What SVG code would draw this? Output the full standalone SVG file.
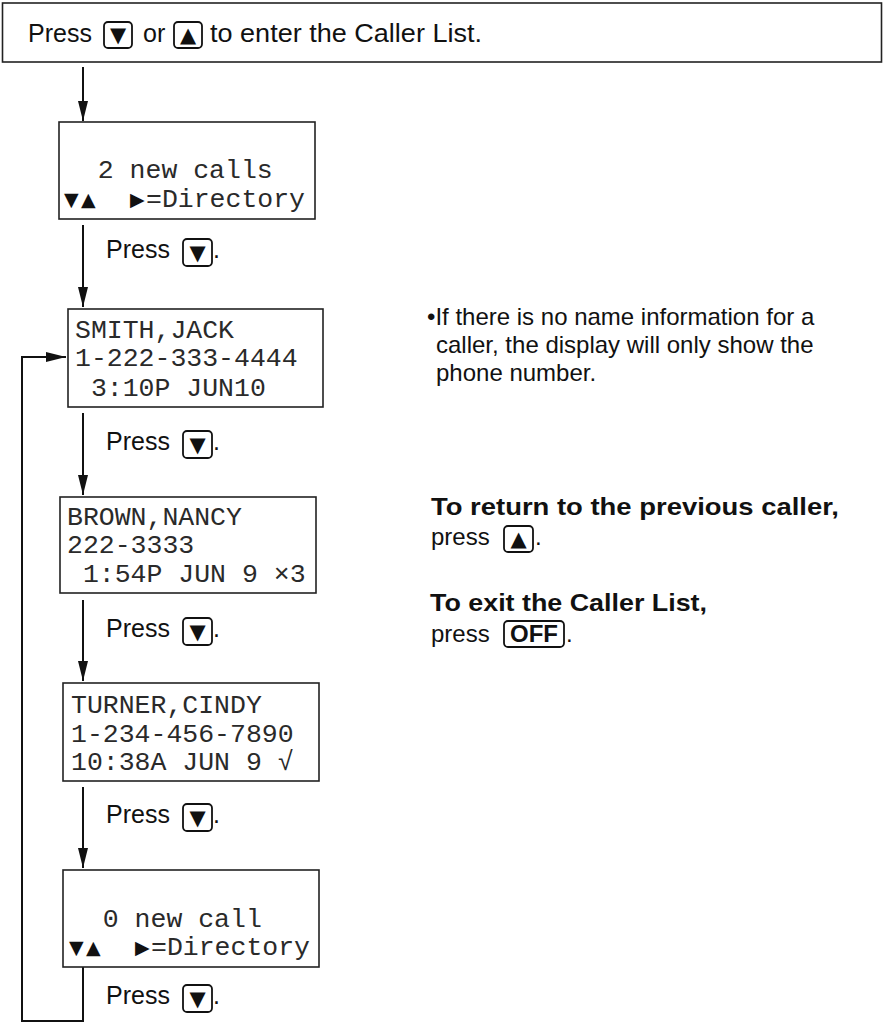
<svg xmlns="http://www.w3.org/2000/svg" width="884" height="1024" viewBox="0 0 884 1024">
<style>
.frame{fill:#fff;stroke:#222;stroke-width:1.6}
.mono{font-family:"Liberation Mono","DejaVu Sans Mono",monospace;font-size:26.5px;fill:#2a2a2a}
.sym{font-family:"DejaVu Sans","DejaVu Sans Mono",sans-serif;font-size:19px;fill:#111}
.sans{font-family:"Liberation Sans",Arial,sans-serif;font-size:25px;fill:#111}
.note{font-family:"Liberation Sans",Arial,sans-serif;font-size:24px;fill:#111}
.bold{font-weight:bold}
.key{fill:#fff;stroke:#111;stroke-width:1.8}
.tri{font-family:"DejaVu Sans",sans-serif;font-size:21px;fill:#111;text-anchor:middle}
.conn{fill:none;stroke:#111;stroke-width:2}
</style>
<defs>
<marker id="ah" markerUnits="userSpaceOnUse" markerWidth="20" markerHeight="10" refX="20" refY="5" orient="auto">
<path d="M0,0 L20,5 L0,10 z" fill="#111"/>
</marker>
</defs>
<rect width="884" height="1024" fill="#fff"/>

<g id="start">
<rect class="frame" x="2.5" y="3" width="879" height="59"/>
<text class="sans" x="28" y="42">Press</text>
<rect class="key" x="104" y="22" width="28" height="26" rx="4"/>
<text class="tri" x="118" y="42">▼</text>
<text class="sans" x="143" y="42">or</text>
<rect class="key" x="174" y="22" width="28" height="26" rx="4"/>
<text class="tri" x="188" y="42">▲</text>
<text class="sans" x="210" y="42" textLength="272" lengthAdjust="spacingAndGlyphs">to enter the Caller List.</text>
</g>

<g id="connectors">
<path class="conn" d="M83,67 V121" marker-end="url(#ah)"/>
<path class="conn" d="M83,225 V307" marker-end="url(#ah)"/>
<path class="conn" d="M83,413 V495" marker-end="url(#ah)"/>
<path class="conn" d="M83,600 V681" marker-end="url(#ah)"/>
<path class="conn" d="M83,787 V868" marker-end="url(#ah)"/>
<path class="conn" d="M83,967 V1021 H22 V357 H66" marker-end="url(#ah)"/>
</g>

<g id="screen-new-calls">
<rect class="frame" x="59" y="122" width="256" height="97"/>
<text class="mono" x="66" y="178" xml:space="preserve">  2 new calls</text>
<text class="sym" y="206"><tspan x="64">▼</tspan><tspan x="81">▲</tspan><tspan x="130">▶</tspan></text>
<text class="mono" x="146" y="207">=Directory</text>
</g>

<g id="label-1">
<text class="sans" x="106" y="258">Press</text>
<rect class="key" x="183" y="239" width="29" height="27" rx="4"/>
<text class="tri" x="197.5" y="259.5">▼</text>
<text class="sans" x="213" y="258">.</text>
</g>

<g id="screen-smith">
<rect class="frame" x="68" y="309" width="255" height="98"/>
<text class="mono" x="75" y="338">SMITH,JACK</text>
<text class="mono" x="75" y="366">1-222-333-4444</text>
<text class="mono" x="75" y="396" xml:space="preserve"> 3:10P JUN10</text>
</g>

<g id="label-2">
<text class="sans" x="106" y="450">Press</text>
<rect class="key" x="183" y="431" width="29" height="27" rx="4"/>
<text class="tri" x="197.5" y="451.5">▼</text>
<text class="sans" x="213" y="450">.</text>
</g>

<g id="screen-brown">
<rect class="frame" x="60" y="497" width="256" height="96"/>
<text class="mono" x="67" y="525">BROWN,NANCY</text>
<text class="mono" x="67" y="553">222-3333</text>
<text class="mono" x="67" y="582" xml:space="preserve"> 1:54P JUN 9 ×3</text>
</g>

<g id="label-3">
<text class="sans" x="106" y="637">Press</text>
<rect class="key" x="183" y="618" width="29" height="27" rx="4"/>
<text class="tri" x="197.5" y="638.5">▼</text>
<text class="sans" x="213" y="637">.</text>
</g>

<g id="screen-turner">
<rect class="frame" x="63" y="683" width="256" height="98"/>
<text class="mono" x="71" y="713">TURNER,CINDY</text>
<text class="mono" x="71" y="742">1-234-456-7890</text>
<text class="mono" x="71" y="770">10:38A JUN 9 √</text>
</g>

<g id="label-4">
<text class="sans" x="106" y="823">Press</text>
<rect class="key" x="183" y="804" width="29" height="27" rx="4"/>
<text class="tri" x="197.5" y="824.5">▼</text>
<text class="sans" x="213" y="823">.</text>
</g>

<g id="screen-no-new">
<rect class="frame" x="63" y="870" width="256" height="97"/>
<text class="mono" x="71" y="927" xml:space="preserve">  0 new call</text>
<text class="sym" y="954"><tspan x="69">▼</tspan><tspan x="86">▲</tspan><tspan x="135">▶</tspan></text>
<text class="mono" x="151" y="955">=Directory</text>
</g>

<g id="label-5">
<text class="sans" x="106" y="1004">Press</text>
<rect class="key" x="183" y="985" width="29" height="27" rx="4"/>
<text class="tri" x="197.5" y="1005.5">▼</text>
<text class="sans" x="213" y="1004">.</text>
</g>

<g id="note-name">
<text class="note" x="427" y="325">•If there is no name information for a</text>
<text class="note" x="436" y="353">caller, the display will only show the</text>
<text class="note" x="436" y="381">phone number.</text>
</g>

<g id="note-return">
<text class="note bold" x="431" y="515" textLength="408" lengthAdjust="spacingAndGlyphs">To return to the previous caller,</text>
<text class="note" x="431" y="545">press</text>
<rect class="key" x="504" y="526" width="29" height="26" rx="4"/>
<text class="tri" x="518.5" y="546">▲</text>
<text class="note" x="535" y="545">.</text>
</g>

<g id="note-exit">
<text class="note bold" x="430" y="611" textLength="277" lengthAdjust="spacingAndGlyphs">To exit the Caller List,</text>
<text class="note" x="431" y="642">press</text>
<rect class="key" x="504" y="621" width="60" height="26" rx="4"/>
<text class="note bold" x="534" y="642" text-anchor="middle" font-size="22">OFF</text>
<text class="note" x="566" y="642">.</text>
</g>
</svg>
